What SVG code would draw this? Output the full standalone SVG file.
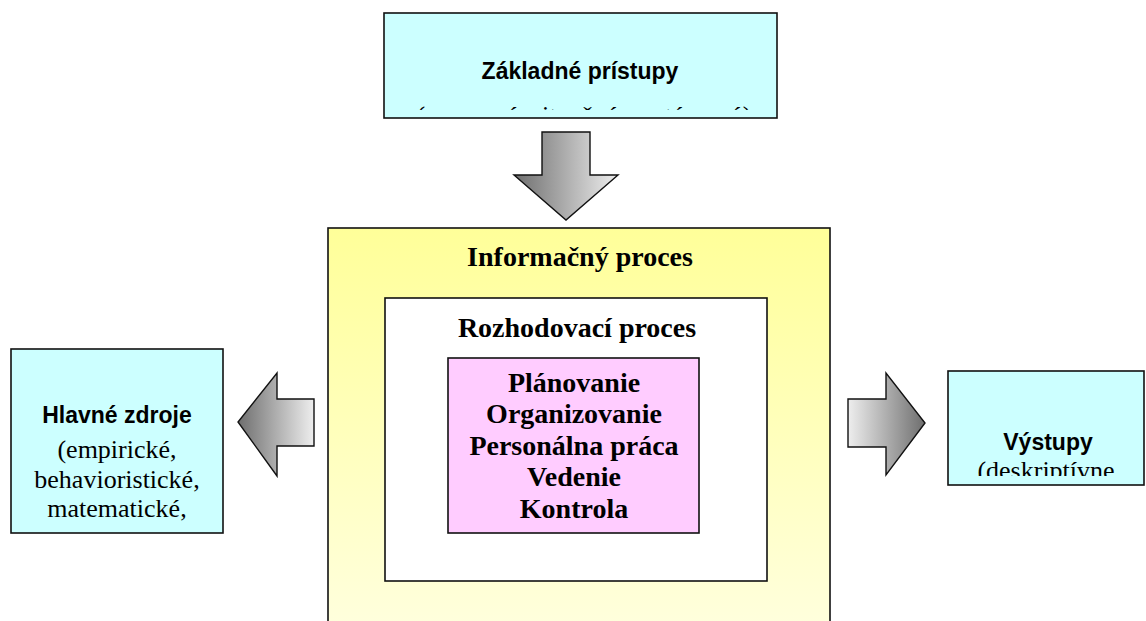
<svg xmlns="http://www.w3.org/2000/svg" width="1146" height="621" viewBox="0 0 1146 621">
<style>
.box{stroke:#111;stroke-width:1.6}
.cyan{fill:#ccffff}
.sans{font-family:"Liberation Sans",Arial,sans-serif;font-weight:bold;font-size:23px;fill:#000;text-anchor:middle}
.serif{font-family:"Liberation Serif","Times New Roman",serif;font-size:26px;fill:#000;text-anchor:middle}
.sb{font-family:"Liberation Serif","Times New Roman",serif;font-weight:bold;font-size:28px;fill:#000;text-anchor:middle}
.arrow{stroke:#111;stroke-width:1.4;stroke-linejoin:miter}
</style>
<defs>
<linearGradient id="gDark2Light" x1="0" y1="0" x2="1" y2="0">
<stop offset="0" stop-color="#6e6e6e"/><stop offset="1" stop-color="#eeeeee"/>
</linearGradient>
<linearGradient id="gLight2Dark" x1="0" y1="0" x2="1" y2="0">
<stop offset="0" stop-color="#eeeeee"/><stop offset="1" stop-color="#6e6e6e"/>
</linearGradient>
<linearGradient id="gYellow" x1="0" y1="0" x2="0" y2="1">
<stop offset="0" stop-color="#ffff99"/><stop offset="1" stop-color="#ffffdd"/>
</linearGradient>
<clipPath id="clipTop"><rect x="385" y="14" width="391" height="96"/></clipPath>
<clipPath id="clipLeft"><rect x="12" y="350" width="210" height="182"/></clipPath>
<clipPath id="clipRight"><rect x="949" y="372" width="195" height="104"/></clipPath>
</defs>

<g id="informacny-proces">
<rect class="box" x="328" y="228" width="502" height="400" fill="url(#gYellow)"/>
<text class="sb" x="580" y="266">Informačný proces</text>
</g>

<g id="rozhodovaci-proces">
<rect class="box" x="385" y="298" width="382" height="283" fill="#ffffff"/>
<text class="sb" x="577" y="337">Rozhodovací proces</text>
</g>

<g id="funkcie">
<rect class="box" x="448" y="358" width="251" height="175" fill="#ffccff"/>
<text class="sb" x="574" y="392">Plánovanie</text>
<text class="sb" x="574" y="423">Organizovanie</text>
<text class="sb" x="574" y="455">Personálna práca</text>
<text class="sb" x="574" y="486">Vedenie</text>
<text class="sb" x="574" y="518">Kontrola</text>
</g>

<g id="zakladne-pristupy">
<rect class="box cyan" x="384" y="13" width="393" height="105"/>
<text class="sans" x="580" y="79">Základné prístupy</text>
<g clip-path="url(#clipTop)">
<text class="serif" x="584" y="124">(procesný, situačný, systémový)</text>
</g>
</g>

<g id="hlavne-zdroje">
<rect class="box cyan" x="11" y="349" width="212" height="184"/>
<text class="sans" x="117" y="423">Hlavné zdroje</text>
<g clip-path="url(#clipLeft)">
<text class="serif" x="117" y="458">(empirické,</text>
<text class="serif" x="117" y="488">behavioristické,</text>
<text class="serif" x="117" y="517">matematické,</text>
</g>
</g>

<g id="vystupy">
<rect class="box cyan" x="948" y="371" width="196" height="114"/>
<text class="sans" x="1048" y="450">Výstupy</text>
<g clip-path="url(#clipRight)">
<text class="serif" x="1046" y="479">(deskriptívne</text>
</g>
</g>

<g id="connectors">
<path class="arrow" fill="url(#gDark2Light)" d="M542,132 L590,132 L590,175 L618,175 L566,220 L514,175 L542,175 Z"/>
<path class="arrow" fill="url(#gDark2Light)" d="M314,399 L314,446 L277,446 L277,476 L238,422 L277,373 L277,399 Z"/>
<path class="arrow" fill="url(#gLight2Dark)" d="M848,399 L886,399 L886,373 L925,423 L886,475 L886,447 L848,447 Z"/>
</g>
</svg>
